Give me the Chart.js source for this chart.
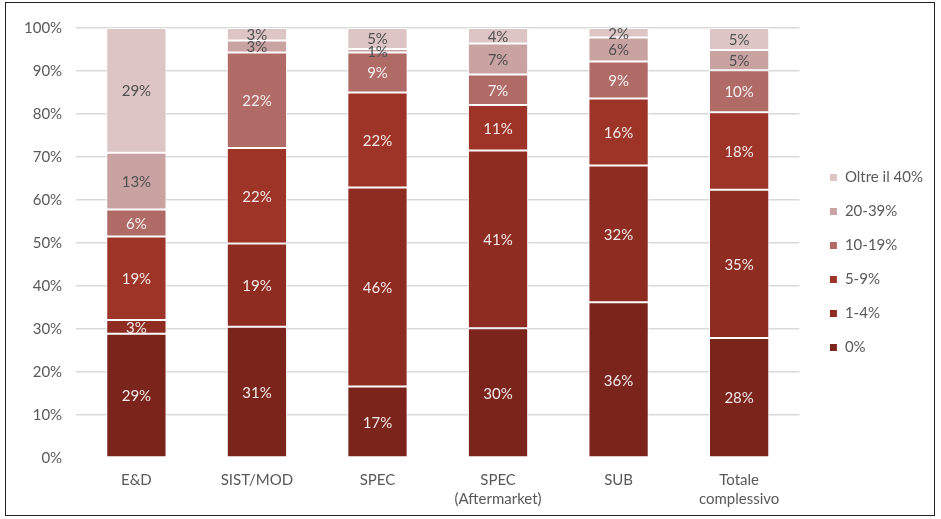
<!DOCTYPE html>
<html>
<head>
<meta charset="utf-8">
<script src="https://cdn.jsdelivr.net/npm/chart.js@4.4.1/dist/chart.umd.min.js"></script>
<style>
  html, body { margin: 0; padding: 0; background: #fff; }
  #frame { position: absolute; left: 5px; top: 2px; width: 930px; height: 514px; border: 1px solid #222; box-sizing: border-box; }
  #wrap { position: absolute; left: 0; top: 0; width: 941px; height: 519px; }
</style>
</head>
<body>
<div id="frame"></div>
<div id="wrap"><canvas id="c" width="941" height="519"></canvas></div>
<script>
const categories = ["E&D", "SIST/MOD", "SPEC", ["SPEC", "(Aftermarket)"], "SUB", ["Totale", "complessivo"]];
const seriesNames = ["0%", "1-4%", "5-9%", "10-19%", "20-39%", "Oltre il 40%"];
const s0   = [28.9, 30.5, 16.6, 30.2, 36.2, 27.9];
const s1_4 = [3.2, 19.4, 46.3, 41.3, 31.8, 34.5];
const s5_9 = [19.4, 22.2, 22.1, 10.6, 15.6, 18.0];
const s10_19 = [6.3, 22.2, 9.3, 7.1, 8.6, 9.8];
const s20_39 = [13.2, 2.8, 0.8, 7.2, 5.6, 4.7];
const sOltre = [29.0, 2.9, 4.9, 3.6, 2.2, 5.1];
const yTicks = [0, 10, 20, 30, 40, 50, 60, 70, 80, 90, 100];

const colors = ["#7A241C", "#8E2C22", "#9E3427", "#B06B67", "#C9A3A1", "#DCC5C4"];
const labelColors = ["#F3E9E8", "#F3E9E8", "#F3E9E8", "#F5EEEE", "#505050", "#505050"];
const allSeries = [s0, s1_4, s5_9, s10_19, s20_39, sOltre];

const FONT = "Lato, 'Open Sans', sans-serif";
const LEGEND_EXTRA = 11;   // extra gap between plot and legend
const LEGEND_SHIFT_Y = -8; // vertical nudge of the legend block

const labelPlugin = {
  id: 'segLabels',
  afterDatasetsDraw(chart) {
    const ctx = chart.ctx;
    ctx.save();
    ctx.font = "15px " + FONT;
    ctx.textAlign = "center";
    ctx.textBaseline = "middle";
    chart.data.datasets.forEach((ds, di) => {
      const meta = chart.getDatasetMeta(di);
      meta.data.forEach((bar, i) => {
        const v = ds.data[i];
        const cy = (bar.y + bar.base) / 2;
        ctx.fillStyle = labelColors[di];
        ctx.fillText(Math.round(v) + "%", bar.x, cy + 1);
      });
    });
    ctx.restore();
  }
};

const legendGap = {
  id: 'legendGap',
  afterInit(chart) {
    const lg = chart.legend;
    if (!lg || lg._gapWrapped) return;
    const f = lg.fit.bind(lg);
    lg.fit = function () { f(); this.width += LEGEND_EXTRA; };
    lg._gapWrapped = true;
  },
  afterLayout(chart) {
    const lg = chart.legend;
    if (!lg) return;
    lg.left += LEGEND_EXTRA;
    lg.top += LEGEND_SHIFT_Y;
    lg.bottom += LEGEND_SHIFT_Y;
  }
};

new Chart(document.getElementById('c'), {
  type: 'bar',
  data: {
    labels: categories,
    datasets: allSeries.map((d, i) => ({
      label: seriesNames[i],
      data: d,
      backgroundColor: colors[i],
      borderColor: "#ffffff",
      borderWidth: 1,
      borderSkipped: false,
      barPercentage: 0.5,
      categoryPercentage: 1.0
    }))
  },
  options: {
    responsive: false,
    animation: false,
    devicePixelRatio: 1,
    layout: { padding: { left: 10, top: 28, right: 8, bottom: 6 } },
    plugins: {
      legend: {
        position: 'right',
        reverse: true,
        labels: {
          boxWidth: 8, boxHeight: 8, padding: 19,
          color: "#595959",
          font: { family: FONT, size: 15 }
        }
      },
      tooltip: { enabled: false }
    },
    scales: {
      x: {
        stacked: true,
        grid: { display: false },
        border: { display: false },
        ticks: { color: "#595959", font: { family: FONT, size: 15, lineHeight: 1.3 }, padding: 4, maxRotation: 0, autoSkip: false }
      },
      y: {
        stacked: true,
        min: 0, max: 100,
        afterBuildTicks(axis) { axis.ticks = yTicks.map(v => ({ value: v })); },
        grid: {
          color: ctx => ctx.tick && ctx.tick.value === 0 ? "rgba(0,0,0,0)" : "#D9D9D9",
          lineWidth: 1.5,
          drawTicks: false
        },
        border: { display: false },
        ticks: {
          color: "#595959",
          font: { family: FONT, size: 15 },
          padding: 14,
          callback: v => v + "%"
        }
      }
    }
  },
  plugins: [labelPlugin, legendGap]
});
</script>
</body>
</html>
